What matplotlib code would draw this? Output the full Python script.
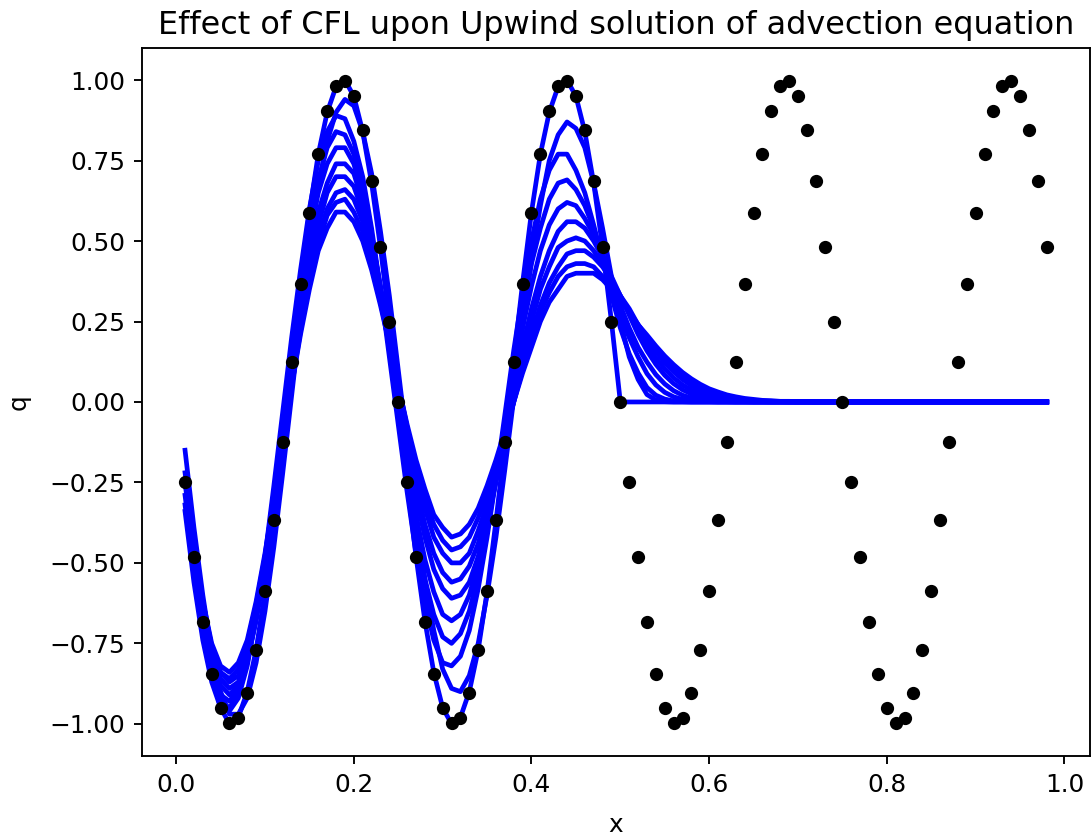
import numpy as np
import matplotlib
matplotlib.use("Agg")
import matplotlib.pyplot as plt

# grid points shown (interior cells)
x = np.round(np.arange(1, 99) * 0.01, 2)

# exact solution (black dots)
q_exact = [
    -0.249, -0.482, -0.685, -0.844, -0.951, -0.998, -0.982, -0.905, -0.771, -0.588, -0.368, -0.125,
    0.125, 0.368, 0.588, 0.771, 0.905, 0.982, 0.998, 0.951, 0.844, 0.685, 0.482, 0.249, 0.0,
    -0.249, -0.482, -0.685, -0.844, -0.951, -0.998, -0.982, -0.905, -0.771, -0.588, -0.368, -0.125,
    0.125, 0.368, 0.588, 0.771, 0.905, 0.982, 0.998, 0.951, 0.844, 0.685, 0.482, 0.249, 0.0,
    -0.249, -0.482, -0.685, -0.844, -0.951, -0.998, -0.982, -0.905, -0.771, -0.588, -0.368, -0.125,
    0.125, 0.368, 0.588, 0.771, 0.905, 0.982, 0.998, 0.951, 0.844, 0.685, 0.482, 0.249, 0.0,
    -0.249, -0.482, -0.685, -0.844, -0.951, -0.998, -0.982, -0.905, -0.771, -0.588, -0.368, -0.125,
    0.125, 0.368, 0.588, 0.771, 0.905, 0.982, 0.998, 0.951, 0.844, 0.685, 0.482,
]

# upwind solutions for each CFL number (cells not listed are zero)
cfl_numbers = [0.1, 0.2, 0.3, 0.4, 0.5, 0.6, 0.7, 0.8, 0.9, 1.0]
q_cfl_01 = [-0.24,-0.45,-0.62,-0.75,-0.82,-0.84,-0.81,-0.74,-0.62,-0.47,-0.30,-0.13,
            0.05,0.21,0.35,0.47,0.54,0.59,0.59,0.56,0.50,0.41,0.30,0.18,0.05,
            -0.07,-0.18,-0.27,-0.35,-0.39,-0.42,-0.41,-0.38,-0.33,-0.26,-0.18,-0.09,0.00,
            0.09,0.17,0.25,0.31,0.35,0.39,0.40,0.40,0.40,0.38,0.35,0.32,0.28,0.24,
            0.208,0.174,0.143,0.116,0.092,0.072,0.055,0.041,0.031,0.022,0.016,0.011,0.008,0.005,0.004,0.002,0.002,0.001,0.001]
q_cfl_02 = [-0.24,-0.45,-0.63,-0.76,-0.84,-0.86,-0.83,-0.75,-0.63,-0.48,-0.31,-0.13,
            0.06,0.23,0.37,0.49,0.58,0.62,0.63,0.59,0.53,0.43,0.31,0.18,0.05,
            -0.08,-0.20,-0.30,-0.38,-0.43,-0.46,-0.45,-0.42,-0.36,-0.29,-0.20,-0.10,0.00,
            0.10,0.20,0.28,0.34,0.39,0.42,0.43,0.43,0.42,0.39,0.36,0.32,0.28,0.24,
            0.202,0.165,0.133,0.104,0.080,0.061,0.045,0.033,0.024,0.016,0.011,0.008,0.005,0.003,0.002,0.001,0.001]
q_cfl_03 = [-0.22,-0.43,-0.62,-0.76,-0.84,-0.87,-0.85,-0.78,-0.66,-0.51,-0.33,-0.14,
            0.05,0.22,0.38,0.51,0.60,0.65,0.66,0.63,0.56,0.47,0.34,0.20,0.06,
            -0.08,-0.21,-0.33,-0.42,-0.47,-0.50,-0.50,-0.47,-0.40,-0.32,-0.22,-0.11,0.00,
            0.11,0.21,0.30,0.37,0.42,0.46,0.47,0.47,0.45,0.42,0.38,0.33,0.29,0.24,
            0.196,0.157,0.122,0.094,0.070,0.051,0.036,0.025,0.017,0.012,0.008,0.005,0.003,0.002,0.001,0.001]
q_cfl_04 = [-0.24,-0.46,-0.64,-0.78,-0.86,-0.89,-0.87,-0.79,-0.66,-0.50,-0.32,-0.12,
            0.07,0.26,0.42,0.55,0.65,0.70,0.70,0.67,0.59,0.48,0.35,0.20,0.04,
            -0.11,-0.26,-0.38,-0.47,-0.53,-0.56,-0.55,-0.51,-0.44,-0.34,-0.23,-0.11,0.02,
            0.14,0.25,0.35,0.42,0.48,0.50,0.51,0.50,0.47,0.43,0.38,0.33,0.28,0.22,
            0.178,0.137,0.103,0.075,0.053,0.037,0.025,0.016,0.010,0.006,0.004,0.002,0.001,0.001]
q_cfl_05 = [-0.24,-0.46,-0.65,-0.79,-0.88,-0.91,-0.88,-0.80,-0.68,-0.52,-0.33,-0.12,
            0.08,0.28,0.45,0.59,0.68,0.74,0.74,0.71,0.62,0.51,0.36,0.20,0.03,
            -0.13,-0.29,-0.42,-0.52,-0.58,-0.61,-0.60,-0.56,-0.48,-0.37,-0.25,-0.11,0.03,
            0.17,0.29,0.39,0.47,0.53,0.56,0.56,0.54,0.50,0.45,0.39,0.33,0.27,0.21,
            0.159,0.117,0.083,0.057,0.038,0.025,0.015,0.009,0.005,0.003,0.002,0.001]
q_cfl_06 = [-0.29,-0.51,-0.69,-0.83,-0.91,-0.93,-0.89,-0.80,-0.67,-0.49,-0.29,-0.08,
            0.13,0.33,0.51,0.65,0.74,0.79,0.79,0.74,0.64,0.51,0.35,0.17,-0.01,
            -0.19,-0.35,-0.49,-0.59,-0.66,-0.68,-0.66,-0.60,-0.50,-0.38,-0.24,-0.08,0.08,
            0.23,0.36,0.47,0.55,0.60,0.62,0.61,0.57,0.52,0.45,0.38,0.30,0.23,0.17,
            0.124,0.085,0.056,0.035,0.021,0.012,0.006,0.003,0.002,0.001]
q_cfl_07 = [-0.32,-0.53,-0.72,-0.85,-0.93,-0.95,-0.91,-0.81,-0.67,-0.49,-0.28,-0.06,
            0.17,0.37,0.55,0.69,0.79,0.84,0.83,0.77,0.67,0.52,0.35,0.16,-0.04,
            -0.23,-0.41,-0.55,-0.66,-0.73,-0.75,-0.72,-0.65,-0.54,-0.40,-0.24,-0.06,0.11,
            0.28,0.43,0.54,0.63,0.68,0.69,0.66,0.61,0.54,0.45,0.36,0.27,0.20,0.14,
            0.088,0.053,0.030,0.016,0.008,0.004,0.001,0.001]
q_cfl_08 = [-0.34,-0.56,-0.74,-0.87,-0.95,-0.96,-0.92,-0.82,-0.67,-0.48,-0.26,-0.03,
            0.20,0.41,0.60,0.75,0.84,0.89,0.88,0.81,0.70,0.54,0.35,0.14,-0.07,
            -0.28,-0.47,-0.62,-0.74,-0.81,-0.82,-0.79,-0.71,-0.58,-0.42,-0.24,-0.04,0.16,
            0.34,0.50,0.63,0.72,0.77,0.77,0.72,0.65,0.55,0.44,0.33,0.23,0.15,0.09,
            0.045,0.021,0.009,0.003,0.001]
q_cfl_09 = [-0.15,-0.39,-0.60,-0.78,-0.90,-0.97,-0.97,-0.92,-0.81,-0.65,-0.45,-0.22,
            0.02,0.26,0.48,0.67,0.81,0.90,0.94,0.92,0.84,0.71,0.53,0.33,0.10,
            -0.13,-0.35,-0.55,-0.71,-0.83,-0.89,-0.90,-0.85,-0.75,-0.60,-0.42,-0.21,0.01,
            0.23,0.44,0.61,0.75,0.83,0.87,0.85,0.79,0.68,0.54,0.39,0.25,0.14,0.07,
            0.023,0.006,0.001]
q_cfl_10 = [-0.25,-0.48,-0.68,-0.84,-0.95,-1.00,-0.98,-0.90,-0.77,-0.59,-0.37,-0.13,
            0.13,0.37,0.59,0.77,0.90,0.98,1.00,0.95,0.84,0.68,0.48,0.25,0.00,
            -0.25,-0.48,-0.68,-0.84,-0.95,-1.00,-0.98,-0.90,-0.77,-0.59,-0.37,-0.13,
            0.13,0.37,0.59,0.77,0.90,0.98,1.00,0.95,0.84,0.68,0.48,0.25]

solutions = [q_cfl_01, q_cfl_02, q_cfl_03, q_cfl_04, q_cfl_05,
             q_cfl_06, q_cfl_07, q_cfl_08, q_cfl_09, q_cfl_10]

fig = plt.figure(figsize=(1092 / 170, 835 / 170), dpi=170)
ax = fig.add_axes([0.130, 0.0946, 0.868, 0.848])

for cfl, vals in zip(cfl_numbers, solutions):
    q = np.zeros(len(x))
    q[:len(vals)] = vals
    ax.plot(x, q, color='blue', lw=2, zorder=2)

ax.plot(x, q_exact, 'o', color='black', ms=4.6, zorder=3)

ax.set_title("Effect of CFL upon Upwind solution of advection equation", fontsize=13.5)
ax.set_xlabel("x", fontsize=10.5, labelpad=7)
ax.set_ylabel("q", fontsize=10.5, labelpad=8)
ax.tick_params(labelsize=10.5)

fig.savefig("out.png", dpi=170)
